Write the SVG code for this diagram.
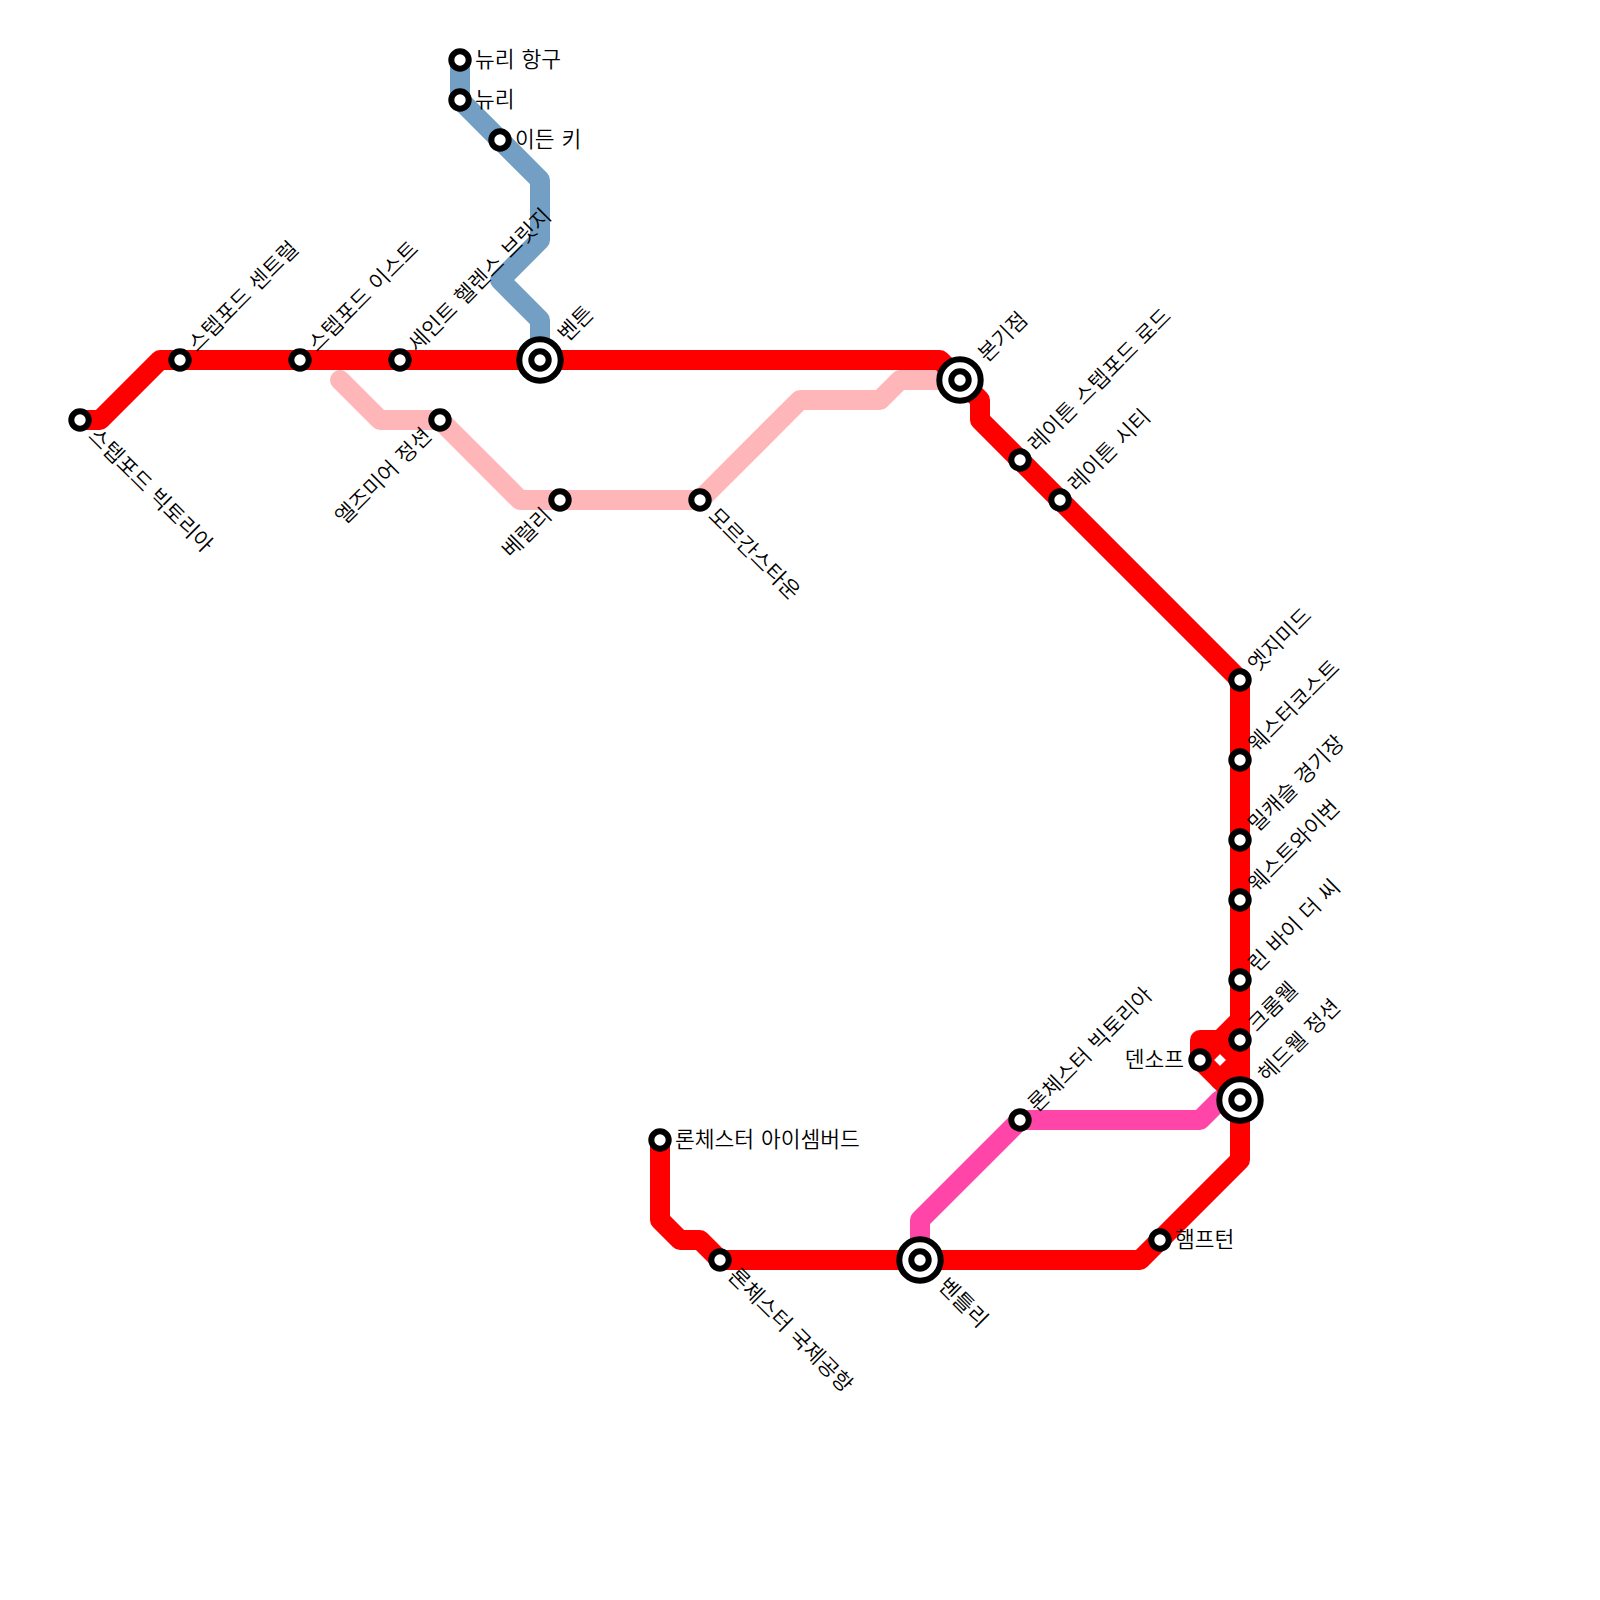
<svg xmlns="http://www.w3.org/2000/svg" width="1600" height="1600" viewBox="0 0 1600 1600">
<style>
.ln{fill:none;stroke-width:20;stroke-linecap:round;stroke-linejoin:round}
.st{fill:#fff;stroke:#000;stroke-width:6}
.o{fill:#fff;stroke:#000;stroke-width:6}
text{font-family:"DejaVu Sans","Noto Sans CJK KR",sans-serif;font-size:21.5px;font-weight:350;fill:#000}
</style>
<rect width="1600" height="1600" fill="#fff"/>
<g id="connectors">
<path class="ln" stroke="#ffb6b9" d="M340 380L380 420H440L520 500H700L800 400H880L900 380H960"/>
<path class="ln" stroke="#739fc4" d="M460 60V100L540 180V240L500 280L540 320V360"/>
<path class="ln" stroke="#ff45a8" d="M920 1260V1220L1020 1120H1200L1220 1100H1240"/>
<path class="ln" stroke="#ff0000" d="M80 420H100L160 360H940L980 400V420L1240 680V1160L1140 1260H720L700 1240H680L660 1220V1140"/>
<path class="ln" stroke="#ff0000" d="M1240 1020L1220 1040H1200V1060L1240 1100"/>
<path class="ln" stroke="#ff0000" d="M1200 1060L1220 1040L1240 1060L1220 1080"/>
</g>
<g id="n1"><circle class="st" cx="80" cy="420" r="8.7"/><text transform="translate(92 432) rotate(45)" dy="7">스텝포드 빅토리아</text></g>
<g id="n2"><circle class="st" cx="180" cy="360" r="8.7"/><text transform="translate(192 348) rotate(-45)" dy="7">스텝포드 센트럴</text></g>
<g id="n3"><circle class="st" cx="300" cy="360" r="8.7"/><text transform="translate(312 348) rotate(-45)" dy="7">스텝포드 이스트</text></g>
<g id="n4"><circle class="st" cx="400" cy="360" r="8.7"/><text transform="translate(412 348) rotate(-45)" dy="7">세인트 헬렌스 브릿지</text></g>
<g id="n5"><circle class="o" cx="540" cy="360" r="20.7"/><circle class="st" cx="540" cy="360" r="8.7"/><text transform="translate(562 338) rotate(-45)" dy="7">벤튼</text></g>
<g id="n6"><circle class="o" cx="960" cy="380" r="20.7"/><circle class="st" cx="960" cy="380" r="8.7"/><text transform="translate(982 358) rotate(-45)" dy="7">본기점</text></g>
<g id="n7"><circle class="st" cx="440" cy="420" r="8.7"/><text transform="translate(428 432) rotate(-45)" dy="7" text-anchor="end">엘즈미어 정션</text></g>
<g id="n8"><circle class="st" cx="560" cy="500" r="8.7"/><text transform="translate(548 512) rotate(-45)" dy="7" text-anchor="end">베럴리</text></g>
<g id="n9"><circle class="st" cx="700" cy="500" r="8.7"/><text transform="translate(712 512) rotate(45)" dy="7">모르간스타운</text></g>
<g id="n10"><circle class="st" cx="460" cy="60" r="8.7"/><text x="475" y="67">뉴리 항구</text></g>
<g id="n11"><circle class="st" cx="460" cy="100" r="8.7"/><text x="475" y="107">뉴리</text></g>
<g id="n12"><circle class="st" cx="500" cy="140" r="8.7"/><text x="515" y="147">이든 키</text></g>
<g id="n13"><circle class="st" cx="1020" cy="460" r="8.7"/><text transform="translate(1032 448) rotate(-45)" dy="7">레이튼 스텝포드 로드</text></g>
<g id="n14"><circle class="st" cx="1060" cy="500" r="8.7"/><text transform="translate(1072 488) rotate(-45)" dy="7">레이튼 시티</text></g>
<g id="n15"><circle class="st" cx="1240" cy="680" r="8.7"/><text transform="translate(1252 668) rotate(-45)" dy="7">엣지미드</text></g>
<g id="n16"><circle class="st" cx="1240" cy="760" r="8.7"/><text transform="translate(1252 748) rotate(-45)" dy="7">웨스터코스트</text></g>
<g id="n17"><circle class="st" cx="1240" cy="840" r="8.7"/><text transform="translate(1252 828) rotate(-45)" dy="7">밀캐슬 경기장</text></g>
<g id="n18"><circle class="st" cx="1240" cy="900" r="8.7"/><text transform="translate(1252 888) rotate(-45)" dy="7">웨스트와이번</text></g>
<g id="n19"><circle class="st" cx="1240" cy="980" r="8.7"/><text transform="translate(1252 968) rotate(-45)" dy="7">린 바이 더 씨</text></g>
<g id="n20"><circle class="st" cx="1240" cy="1040" r="8.7"/><text transform="translate(1252 1028) rotate(-45)" dy="7">크롬웰</text></g>
<g id="n21"><circle class="o" cx="1240" cy="1100" r="20.7"/><circle class="st" cx="1240" cy="1100" r="8.7"/><text transform="translate(1262 1078) rotate(-45)" dy="7">헤드웰 정션</text></g>
<g id="n22"><circle class="st" cx="1200" cy="1060" r="8.7"/><text x="1184" y="1067" text-anchor="end">덴소프</text></g>
<g id="n23"><circle class="st" cx="1020" cy="1120" r="8.7"/><text transform="translate(1032 1108) rotate(-45)" dy="7">론체스터 빅토리아</text></g>
<g id="n24"><circle class="st" cx="660" cy="1140" r="8.7"/><text x="675" y="1147">론체스터 아이셈버드</text></g>
<g id="n25"><circle class="st" cx="720" cy="1260" r="8.7"/><text transform="translate(732 1272) rotate(45)" dy="7">론체스터 국제공항</text></g>
<g id="n26"><circle class="o" cx="920" cy="1260" r="20.7"/><circle class="st" cx="920" cy="1260" r="8.7"/><text transform="translate(942 1282) rotate(45)" dy="7">벤틀리</text></g>
<g id="n27"><circle class="st" cx="1160" cy="1240" r="8.7"/><text x="1175" y="1247">햄프턴</text></g>
</svg>
